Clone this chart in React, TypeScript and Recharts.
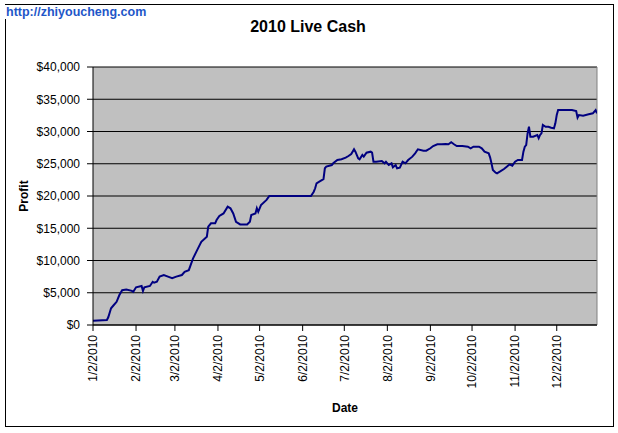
import React from 'react';
import { LineChart, Line, XAxis, YAxis, CartesianGrid, ReferenceLine } from 'recharts';

// days since 1/2/2010
const days = [
  0, 10, 11, 13, 15, 17, 19, 21, 24, 28, 29, 31, 35, 36, 37, 41, 43, 44, 46, 48,
  51, 54, 57, 60, 64, 66, 69, 72, 75, 78, 82, 83, 85, 88, 89, 91, 94, 97, 99, 101,
  103, 106, 111, 113, 114, 117, 118, 119, 121, 125, 127, 157, 159, 160, 161, 163, 166, 167, 168, 172,
  173, 176, 179, 182, 184, 186, 188, 189, 191, 192, 194, 195, 197, 200, 201, 202, 204, 208, 210, 211,
  213, 215, 216, 218, 219, 221, 223, 225, 227, 230, 232, 234, 238, 240, 243, 245, 248, 251, 254, 256,
  258, 260, 262, 266, 270, 272, 274, 278, 280, 282, 285, 286, 287, 288, 290, 291, 293, 296, 298, 300,
  302, 304, 306, 309, 310, 311, 312, 313, 314, 315, 317, 320, 321, 322, 323, 324, 326, 328, 330, 332,
  333, 334, 335, 339, 345, 348, 349, 350, 353, 357, 360, 362, 363,
];

const profit = [
  670, 780, 1200, 2600, 3100, 3600, 4650, 5400, 5500, 5300, 5150, 5850, 6050, 5270, 5850, 6050, 6700, 6550, 6700, 7500,
  7750, 7500, 7250, 7500, 7750, 8250, 8500, 10300, 11600, 12900, 13700, 15240, 15770, 15770, 16280, 16900, 17300, 18340, 18100, 17300,
  16000, 15600, 15600, 16000, 17050, 17300, 18100, 17550, 18600, 19400, 20000, 20000, 20670, 21200, 21970, 22220, 22600, 24300, 24550, 24800,
  25070, 25580, 25690, 25940, 26200, 26510, 27240, 26870, 25840, 25690, 26360, 26100, 26720, 26870, 26720, 25320, 25320, 25430, 25070, 25320,
  24800, 25070, 24450, 24800, 24290, 24400, 25320, 25070, 25580, 26100, 26620, 27240, 27030, 27030, 27400, 27750, 28020, 28020, 28060, 28020,
  28330, 28020, 27750, 27750, 27650, 27400, 27650, 27650, 27400, 26870, 26620, 26000, 25070, 24030, 23610, 23520, 23770, 24190, 24550, 24910,
  24700, 25320, 25580, 25580, 26870, 27650, 27900, 29720, 30740, 29200, 29200, 29460, 28950, 29460, 29720, 31010, 30740, 30740, 30590, 30490,
  31270, 32560, 33330, 33330, 33330, 33180, 32150, 32560, 32450, 32660, 32820, 33330, 32820,
];

const dateTickLabels = [
  '1/2/2010', '2/2/2010', '3/2/2010', '4/2/2010', '5/2/2010', '6/2/2010',
  '7/2/2010', '8/2/2010', '9/2/2010', '10/2/2010', '11/2/2010', '12/2/2010',
];
const lastDate = '12/31/2010';
const profitTicks = [0, 5000, 10000, 15000, 20000, 25000, 30000, 35000, 40000];

const title = '2010 Live Cash';
const watermark = 'http://zhiyoucheng.com';
const xTitle = 'Date';
const yTitle = 'Profit';

const START = Date.UTC(2010, 0, 2);
const DAY = 86400000;
const toDay = (s: string) => {
  const [m, d, y] = s.split('/').map(Number);
  return Math.round((Date.UTC(y, m - 1, d) - START) / DAY);
};
const dateTicks = dateTickLabels.map(toDay);
const endDay = toDay(lastDate);
const data = days.map((d, i) => ({ day: d, profit: profit[i] }));

const FONT = '"Liberation Sans", Arial, sans-serif';

const DateTick = (props: any) => {
  const { x, y, payload } = props;
  const idx = dateTicks.indexOf(payload.value);
  const label = idx >= 0 ? dateTickLabels[idx] : '';
  return (
    <g transform={`translate(${x},${y})`}>
      <text transform="rotate(-90)" x={-2} dy="0.35em" textAnchor="end" fontSize={12} fontFamily={FONT} fill="#000">
        {label}
      </text>
    </g>
  );
};

const fmtMoney = (v: number) => '$' + v.toLocaleString('en-US');

export default function App() {
  return (
    <div style={{ position: 'absolute', left: 0, top: 0, width: 618, height: 433, background: '#fff' }}>
      <div style={{ position: 'absolute', left: 5, top: 4, width: 607, height: 421, border: '1px solid #000' }} />
      <div style={{ position: 'absolute', left: 0, top: 0 }}>
        <LineChart width={618} height={433} data={data} margin={{ top: 67, right: 21, bottom: 0, left: 0 }}>
          <CartesianGrid horizontal vertical={false} stroke="#000" fill="#C0C0C0" fillOpacity={1} />
          <XAxis
            type="number"
            dataKey="day"
            domain={[0, endDay]}
            ticks={dateTicks}
            tick={<DateTick />}
            tickSize={6}
            interval={0}
            height={108}
            axisLine={{ stroke: '#000' }}
            tickLine={{ stroke: '#000' }}
            allowDataOverflow
          />
          <YAxis
            type="number"
            domain={[0, 40000]}
            ticks={profitTicks}
            tickFormatter={fmtMoney}
            width={93}
            tickSize={6}
            tickMargin={7}
            interval={0}
            axisLine={{ stroke: '#000' }}
            tickLine={{ stroke: '#000' }}
            tick={{ fontSize: 12, fontFamily: FONT, fill: '#000' }}
          />
          <ReferenceLine x={endDay} stroke="#808080" />
          <Line
            type="linear"
            dataKey="profit"
            stroke="#000080"
            strokeWidth={2}
            dot={false}
            isAnimationActive={false}
          />
        </LineChart>
      </div>
      <svg width={618} height={433} style={{ position: 'absolute', left: 0, top: 0, pointerEvents: 'none' }}>
        <rect x={5} y={5} width={142} height={14} fill="#fff" />
        <text x={6} y={16} fontSize={12.5} fontWeight="bold" fontFamily={FONT} fill="#1e56c8">{watermark}</text>
        <text x={308} y={32} fontSize={16} fontWeight="bold" fontFamily={FONT} fill="#000" textAnchor="middle">{title}</text>
        <text x={345} y={412} fontSize={12} fontWeight="bold" fontFamily={FONT} fill="#000" textAnchor="middle">{xTitle}</text>
        <text transform="translate(28,196) rotate(-90)" fontSize={12} fontWeight="bold" fontFamily={FONT} fill="#000" textAnchor="middle">{yTitle}</text>
      </svg>
    </div>
  );
}
